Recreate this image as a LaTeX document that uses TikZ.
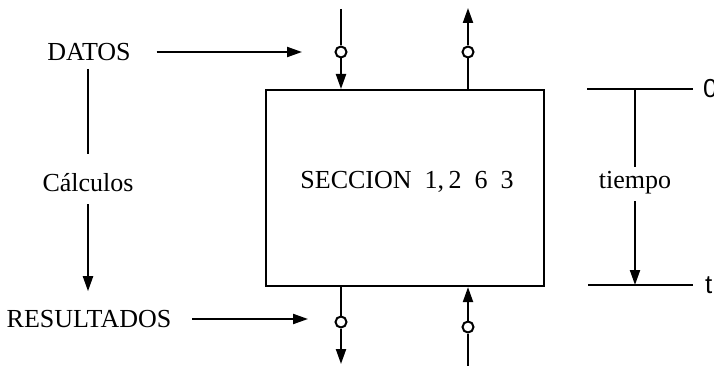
\documentclass[tikz,border=0pt]{standalone}
\usepackage{fontspec}
\setmainfont{Liberation Serif}
\newfontfamily\sansf{Liberation Sans}
\usetikzlibrary{arrows.meta}
\begin{document}
\begin{tikzpicture}[x=1pt,y=-1pt,line width=2.1pt,
  arr/.style={-{Triangle[length=15pt,width=10pt]}},
  port/.style={circle,draw,fill=white,inner sep=0pt,minimum size=11pt,line width=2pt},
  lbl/.style={font=\fontsize{26}{30}\selectfont,inner sep=0pt},
  slbl/.style={font=\sansf\fontsize{26}{30}\selectfont,inner sep=0pt}]
\useasboundingbox (0,0) rectangle (714,366);
% main box
\node[draw,minimum width=278pt,minimum height=196pt,anchor=north west,inner sep=0pt] (box) at (265,89) {};
\node[lbl] (sec) at (407,182) {SECCION\ \ 1,\,2\ \ 6\ \ 3};
% ports
\node[port] (pin1) at (341,52) {};
\node[port] (pout1) at (468,52) {};
\node[port] (pout2) at (341,322) {};
\node[port] (pin2) at (468,327) {};
\coordinate (t1) at (341,9);
\coordinate (t2) at (468,8);
\coordinate (b1) at (341,364);
\coordinate (b2) at (468,366);
\draw (t1) -- (pin1);
\draw[arr] (pin1) -- (pin1 |- box.north);
\draw (pout1 |- box.north) -- (pout1);
\draw[arr] (pout1) -- (t2);
\draw (pout2 |- box.south) -- (pout2);
\draw[arr] (pout2) -- (b1);
\draw (b2) -- (pin2);
\draw[arr] (pin2) -- (pin2 |- box.south);
% left labels
\node[lbl] (datos) at (89,52) {DATOS};
\node[lbl] (calc) at (88,183) {Cálculos};
\node[lbl] (res) at (89,319) {RESULTADOS};
\draw[arr] ([xshift=25pt]datos.east) -- ([xshift=-39pt]pin1.center);
\draw[arr] ([xshift=20pt]res.east) -- ([xshift=-33pt,yshift=3pt]pout2.center);
\draw ([xshift=-1pt,yshift=-7pt]datos.south) -- ([yshift=19pt]calc.north);
\draw[arr] ([yshift=-11pt]calc.south) -- ([xshift=-1pt,yshift=18pt]res.north);
% time axis
\coordinate (h0a) at (587,89);
\coordinate (h0b) at (693,89);
\coordinate (h1a) at (588,285);
\coordinate (h1b) at (693,285);
\draw (h0a) -- (h0b);
\draw (h1a) -- (h1b);
\node[slbl,anchor=west] (zero) at (702,89) {0};
\node[slbl,anchor=west] (tt) at (704,285) {t};
\node[lbl] (tiempo) at (635,183) {tiempo};
\coordinate (v0) at (635,89);
\coordinate (v1) at (635,285);
\draw (v0) -- ([yshift=4pt]tiempo.north);
\draw[arr] ([yshift=-6pt]tiempo.south) -- (v1);
\end{tikzpicture}
\end{document}
